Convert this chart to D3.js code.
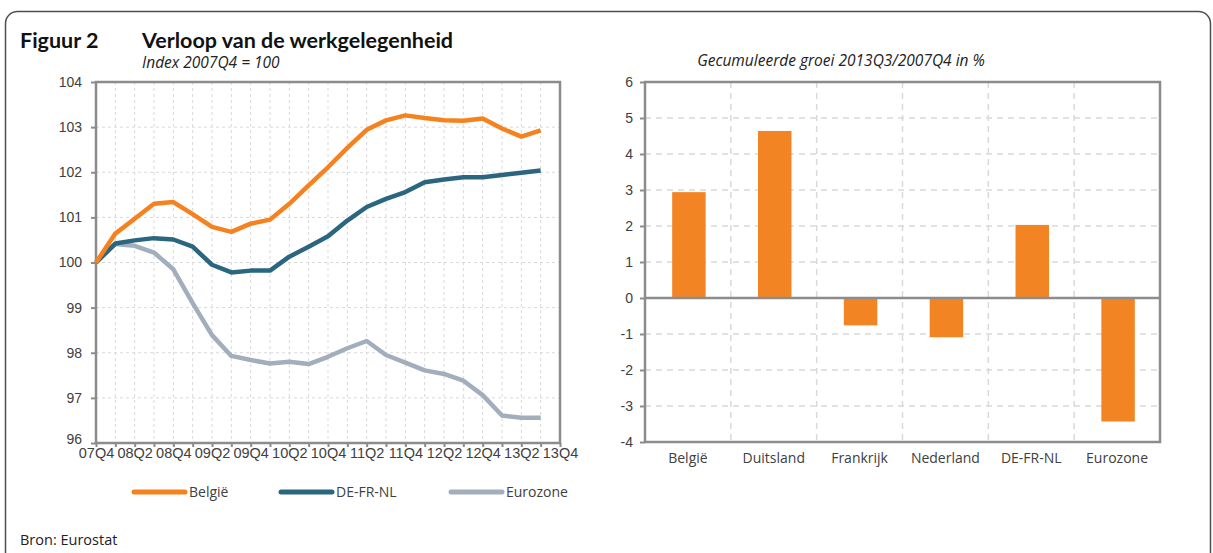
<!DOCTYPE html>
<html>
<head>
<meta charset="utf-8">
<script src="https://cdn.jsdelivr.net/npm/d3@7"></script>
<style>
  body { margin: 0; background: #fff; }
  svg { display: block; font-family: "Open Sans", Lato, sans-serif; }
  .tick-label { fill: #404040; font-size: 14px; }
  .title { font-family: Lato, sans-serif; font-weight: bold; font-size: 21.5px; fill: #111; }
  .sub { font-style: italic; font-size: 15.5px; fill: #222; }
</style>
</head>
<body>
<div id="chart"></div>
<script>
// quarters on the x axis of the line chart (07Q4 .. 13Q4)
var quarters = ["07Q4", "08Q1", "08Q2", "08Q3", "08Q4", "09Q1", "09Q2", "09Q3", "09Q4",
  "10Q1", "10Q2", "10Q3", "10Q4", "11Q1", "11Q2", "11Q3", "11Q4",
  "12Q1", "12Q2", "12Q3", "12Q4", "13Q1", "13Q2", "13Q3", "13Q4"];

// index 2007Q4 = 100, last value is 13Q3
var belgie = [100, 100.64, 100.97, 101.30, 101.34, 101.07, 100.79, 100.68, 100.86, 100.95,
  101.30, 101.71, 102.11, 102.54, 102.94, 103.15, 103.26, 103.20, 103.15, 103.14,
  103.19, 102.97, 102.79, 102.93];
var deFrNl = [100, 100.42, 100.49, 100.54, 100.51, 100.35, 99.95, 99.78, 99.82, 99.82,
  100.13, 100.35, 100.58, 100.93, 101.23, 101.41, 101.56, 101.78, 101.84, 101.89,
  101.89, 101.94, 101.99, 102.04];
var eurozone = [100, 100.41, 100.37, 100.22, 99.85, 99.10, 98.39, 97.93, 97.84, 97.76,
  97.80, 97.75, 97.91, 98.10, 98.26, 97.95, 97.78, 97.61, 97.53, 97.38,
  97.06, 96.61, 96.56, 96.56];
var lineTicks = [96, 97, 98, 99, 100, 101, 102, 103, 104];

// cumulative growth 2013Q3 / 2007Q4 in %
var countries = ["België", "Duitsland", "Frankrijk", "Nederland", "DE-FR-NL", "Eurozone"];
var growth = [2.94, 4.64, -0.76, -1.09, 2.03, -3.43];
var barTicks = [-4, -3, -2, -1, 0, 1, 2, 3, 4, 5, 6];

var W = 1213, H = 553;
var gridColor = "#d9d9d9", axisColor = "#8c8c8c";

var svg = d3.select("#chart").append("svg")
    .attr("width", W)
    .attr("height", H);

// frame round the figure (runs off the bottom)
svg.append("rect")
    .attr("x", 5.5).attr("y", 11.5)
    .attr("width", 1205).attr("height", 600)
    .attr("rx", 12)
    .attr("fill", "none")
    .attr("stroke", "#4d4d4d")
    .attr("stroke-width", 1.5);

svg.append("text").attr("class", "title")
    .attr("x", 20).attr("y", 48)
    .text("Figuur 2");
svg.append("text").attr("class", "title")
    .attr("x", 142).attr("y", 48)
    .text("Verloop van de werkgelegenheid");
svg.append("text").attr("class", "sub")
    .attr("x", 142).attr("y", 68)
    .text("Index 2007Q4 = 100");

/* ---------- left: line chart ---------- */
var L = {left: 96, right: 560, top: 82, bottom: 443};

var x = d3.scaleLinear().domain([0, quarters.length - 1]).range([L.left, L.right]);
var y = d3.scaleLinear().domain([96, 104]).range([L.bottom, L.top]);

var lc = svg.append("g");

// dashed grid
lc.append("g").selectAll("line").data(d3.range(1, quarters.length - 1)).join("line")
    .attr("x1", function(d) { return x(d); }).attr("x2", function(d) { return x(d); })
    .attr("y1", L.top).attr("y2", L.bottom)
    .attr("stroke", gridColor).attr("stroke-dasharray", "3,3");
lc.append("g").selectAll("line").data(lineTicks.slice(1, -1)).join("line")
    .attr("x1", L.left).attr("x2", L.right)
    .attr("y1", function(d) { return y(d); }).attr("y2", function(d) { return y(d); })
    .attr("stroke", gridColor).attr("stroke-dasharray", "3,3");

// y axis
var yAxis = lc.append("g")
    .attr("transform", "translate(" + L.left + ",0)")
    .call(d3.axisLeft(y).tickValues(lineTicks).tickSize(5).tickPadding(9));
// x axis: a tick at every quarter, a label at every second one
var xAxis = lc.append("g")
    .attr("transform", "translate(0," + L.bottom + ")")
    .call(d3.axisBottom(x).tickValues(d3.range(quarters.length)).tickSize(4).tickPadding(1)
        .tickFormat(function(i) { return i % 2 == 0 ? quarters[i] : ""; }));
[yAxis, xAxis].forEach(function(a) {
    a.select(".domain").remove();
    a.selectAll(".tick line").attr("stroke", axisColor).attr("stroke-width", 2);
    a.selectAll(".tick text").attr("class", "tick-label").attr("font-family", null).attr("font-size", null);
});
xAxis.selectAll(".tick text").style("font-size", "14.5px");
// the bottom label sits a little higher, as in the original
yAxis.selectAll(".tick text").filter(function(d) { return d == 96; }).attr("y", -4);

lc.append("rect")
    .attr("x", L.left).attr("y", L.top)
    .attr("width", L.right - L.left).attr("height", L.bottom - L.top)
    .attr("fill", "none").attr("stroke", axisColor).attr("stroke-width", 2.5);

var series = [
    {name: "Eurozone", values: eurozone, color: "#a3aebd"},
    {name: "DE-FR-NL", values: deFrNl, color: "#2b6680"},
    {name: "België", values: belgie, color: "#f5821f"}
];

var line = d3.line()
    .x(function(d, i) { return x(i); })
    .y(function(d) { return y(d); });

lc.selectAll("path.series").data(series).join("path")
    .attr("class", "series")
    .attr("d", function(s) { return line(s.values); })
    .attr("fill", "none")
    .attr("stroke", function(s) { return s.color; })
    .attr("stroke-width", 4.5)
    .attr("stroke-linejoin", "round");

// legend, same order as the original (België first)
var legendX = [132, 279, 449];
var lg = svg.append("g").selectAll("g").data(series.slice().reverse()).join("g")
    .attr("transform", function(d, i) { return "translate(" + legendX[i] + ",492)"; });
lg.append("line")
    .attr("x1", 2).attr("x2", 53)
    .attr("stroke", function(d) { return d.color; })
    .attr("stroke-width", 5).attr("stroke-linecap", "round");
lg.append("text")
    .attr("class", "tick-label")
    .attr("x", 57).attr("dy", "0.35em")
    .text(function(d) { return d.name; });

svg.append("text")
    .attr("x", 20).attr("y", 545)
    .attr("font-size", 14.5).attr("fill", "#222")
    .text("Bron: Eurostat");

/* ---------- right: bar chart ---------- */
var R = {left: 645, right: 1160, top: 82, bottom: 442};

var xb = d3.scaleBand().domain(countries).range([R.left, R.right]);
var yb = d3.scaleLinear().domain([-4, 6]).range([R.bottom, R.top]);

var bc = svg.append("g");

bc.append("text").attr("class", "sub")
    .attr("x", 841).attr("y", 66)
    .attr("text-anchor", "middle")
    .text("Gecumuleerde groei 2013Q3/2007Q4 in %");

bc.append("g").selectAll("line").data(countries.slice(1)).join("line")
    .attr("x1", function(d) { return xb(d); }).attr("x2", function(d) { return xb(d); })
    .attr("y1", R.top).attr("y2", R.bottom)
    .attr("stroke", gridColor).attr("stroke-width", 1.5).attr("stroke-dasharray", "6,5");
bc.append("g").selectAll("line").data(barTicks.filter(function(t) { return t != 0 && t != -4 && t != 6; })).join("line")
    .attr("x1", R.left).attr("x2", R.right)
    .attr("y1", function(d) { return yb(d); }).attr("y2", function(d) { return yb(d); })
    .attr("stroke", gridColor).attr("stroke-width", 1.5).attr("stroke-dasharray", "6,5");

var ybAxis = bc.append("g")
    .attr("transform", "translate(" + R.left + ",0)")
    .call(d3.axisLeft(yb).tickValues(barTicks).tickSize(5).tickPadding(7)
        .tickFormat(d3.format("d")));
ybAxis.select(".domain").remove();
ybAxis.selectAll(".tick line").attr("stroke", axisColor).attr("stroke-width", 2);
ybAxis.selectAll(".tick text").attr("class", "tick-label").attr("font-family", null).attr("font-size", null)
    .text(function(d) { return d < 0 ? "-" + Math.abs(d) : d; });

var barW = xb.bandwidth() * 0.39;
bc.selectAll("rect.bar").data(countries).join("rect")
    .attr("class", "bar")
    .attr("x", function(d) { return xb(d) + xb.bandwidth() / 2 - barW / 2 + 1; })
    .attr("width", barW)
    .attr("y", function(d, i) { return yb(Math.max(0, growth[i])); })
    .attr("height", function(d, i) { return Math.abs(yb(growth[i]) - yb(0)); })
    .attr("fill", "#f38424");

// zero line
bc.append("line")
    .attr("x1", R.left).attr("x2", R.right)
    .attr("y1", yb(0)).attr("y2", yb(0))
    .attr("stroke", axisColor).attr("stroke-width", 2.5);

bc.append("rect")
    .attr("x", R.left).attr("y", R.top)
    .attr("width", R.right - R.left).attr("height", R.bottom - R.top)
    .attr("fill", "none").attr("stroke", axisColor).attr("stroke-width", 2.5);

bc.append("g").selectAll("text").data(countries).join("text")
    .attr("class", "tick-label")
    .attr("x", function(d) { return xb(d) + xb.bandwidth() / 2; })
    .attr("y", 463)
    .attr("text-anchor", "middle")
    .text(function(d) { return d; });
</script>
</body>
</html>
